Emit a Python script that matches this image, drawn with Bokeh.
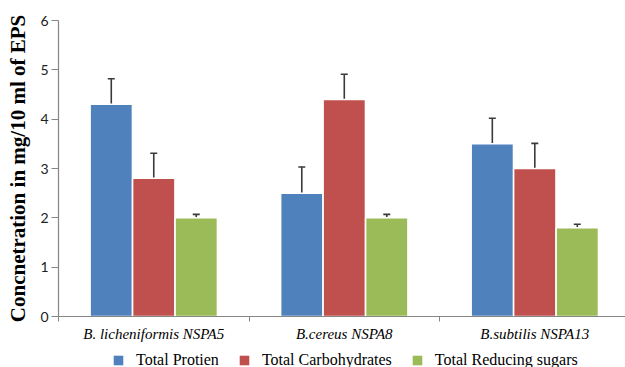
from bokeh.plotting import figure
from bokeh.layouts import column
from bokeh.models import (Range1d, FixedTicker, Whisker, TeeHead, ColumnDataSource,
                          Legend, LegendItem)
from bokeh.embed import file_html
from bokeh.resources import INLINE

categories = ["B. licheniformis NSPA5", "B.cereus NSPA8", "B.subtilis NSPA13"]
series = ["Total Protien", "Total Carbohydrates", "Total Reducing sugars"]
protein = [4.3, 2.5, 3.5]
carbohydrates = [2.8, 4.4, 3.0]
reducing_sugars = [2.0, 2.0, 1.8]
protein_err = [0.52, 0.53, 0.52]
carbohydrates_err = [0.51, 0.51, 0.51]
reducing_sugars_err = [0.07, 0.07, 0.07]
y_ticks = [0, 1, 2, 3, 4, 5, 6]

colors = ["#4F81BD", "#C0504D", "#9BBB59"]
values = [protein, carbohydrates, reducing_sugars]
errors = [protein_err, carbohydrates_err, reducing_sugars_err]
offsets = [-0.223, 0.0, 0.223]
SERIF = "Times New Roman"

p = figure(width=625, height=344, output_backend="svg", toolbar_location=None,
           x_range=Range1d(0, 2.976), y_range=Range1d(0, 6),
           min_border_left=58, min_border_right=0, min_border_top=20, min_border_bottom=28)
p.outline_line_color = None
p.xgrid.grid_line_color = None
p.ygrid.grid_line_color = None
p.background_fill_color = "white"
p.border_fill_color = "white"

centers = [i + 0.5 for i in range(len(categories))]
for vals, errs, col, off in zip(values, errors, colors, offsets):
    xs = [c + off for c in centers]
    src = ColumnDataSource(dict(x=xs, top=vals, upper=[v + e for v, e in zip(vals, errs)]))
    p.vbar(x="x", top="top", width=0.222, source=src, fill_color=col,
           line_color="white", line_width=1.5)
    w = Whisker(base="x", upper="upper", lower="top", source=src, dimension="height",
                line_color="#3a3a3a", line_width=1.6,
                upper_head=TeeHead(size=7, line_color="#3a3a3a", line_width=1.6),
                lower_head=None)
    p.add_layout(w)

# x axis
xa = p.xaxis[0]
xa.ticker = FixedTicker(ticks=centers, minor_ticks=[0, 1, 2, 3])
xa.major_label_overrides = {c: n for c, n in zip(centers, categories)}
xa.major_tick_out = 0
xa.major_tick_in = 0
xa.minor_tick_out = 5
xa.minor_tick_in = 0
xa.minor_tick_line_color = "#868686"
xa.axis_line_color = "#868686"
xa.axis_line_width = 1.2
xa.major_label_standoff = 4
xa.major_label_text_font = SERIF
xa.major_label_text_font_style = "italic"
xa.major_label_text_font_size = "15px"
xa.major_label_text_color = "#000000"

# y axis
ya = p.yaxis[0]
ya.ticker = FixedTicker(ticks=y_ticks)
ya.minor_tick_line_color = None
ya.major_tick_out = 7
ya.major_tick_in = 0
ya.major_tick_line_color = "#868686"
ya.axis_line_color = "#868686"
ya.axis_line_width = 1.2
ya.major_label_standoff = 3
ya.major_label_text_font = "Lato"
ya.major_label_text_font_size = "14px"
ya.major_label_text_color = "#222222"
ya.axis_label = "Concnetration in mg/10 ml of EPS"
ya.axis_label_text_font = SERIF
ya.axis_label_text_font_style = "bold"
ya.axis_label_text_font_size = "21px"
ya.axis_label_text_color = "#000000"
ya.axis_label_standoff = 7

# legend strip
pl = figure(width=625, height=23, output_backend="svg", toolbar_location=None,
            x_axis_location=None, y_axis_location=None,
            x_range=Range1d(0, 1), y_range=Range1d(0, 1),
            min_border_left=58, min_border_right=0, min_border_top=0, min_border_bottom=0)
pl.outline_line_color = None
pl.xgrid.grid_line_color = None
pl.ygrid.grid_line_color = None
pl.background_fill_color = "white"
pl.border_fill_color = "white"
legend_renderers = [pl.vbar(x=[0.5], top=[0], bottom=[0], width=0.1, fill_color=c, line_alpha=0)
                    for c in colors]
legend = Legend(items=[LegendItem(label=s, renderers=[r]) for s, r in zip(series, legend_renderers)],
                orientation="horizontal", location=(54, -2),
                glyph_width=12, glyph_height=12, label_standoff=12, spacing=19,
                padding=0, margin=0, border_line_color=None, background_fill_alpha=0,
                label_text_font=SERIF, label_text_font_size="16px",
                label_text_color="#000000", label_height=12)
pl.add_layout(legend, "center")

open("out.html", "w").write(file_html(column(p, pl), INLINE))
